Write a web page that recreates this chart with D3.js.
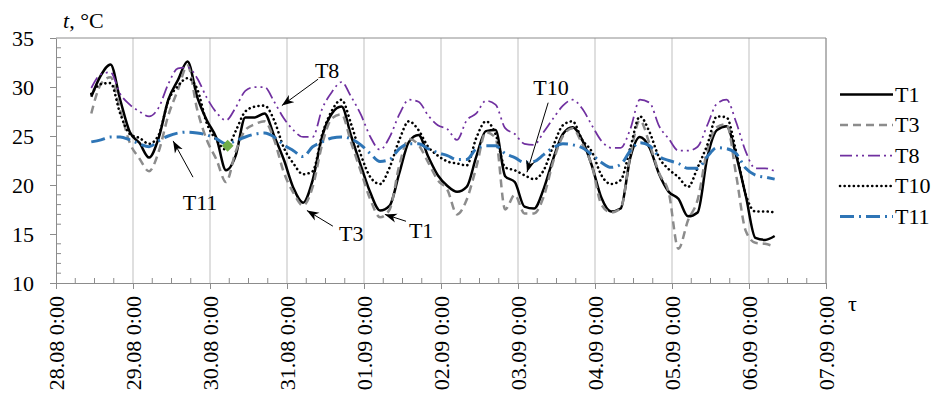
<!DOCTYPE html>
<html>
<head>
<meta charset="utf-8">
<script src="https://cdn.jsdelivr.net/npm/d3@7"></script>
<style>
	body { margin: 0; background: #fff; }
	svg { display: block; }
</style>
</head>
<body>
<div class="chart"></div>
<script>
// readings every 3 h, hours counted from 28.08 0:00
const hours = d3.range(11, 225, 3);
const T1 = [29.0, 31.2, 32.3, 28.7, 25.4, 24.3, 22.8, 24.8, 28.7, 30.7, 32.6, 29.0, 26.6, 24.8, 21.5, 23.0, 26.9, 26.9, 27.3, 25.0, 22.6, 19.7, 18.2, 20.5, 25.0, 27.3, 28.0, 25.0, 22.0, 19.2, 17.4, 17.9, 21.2, 24.4, 25.1, 22.9, 21.0, 19.9, 19.3, 19.8, 22.9, 25.5, 25.6, 20.9, 20.3, 17.8, 17.6, 19.6, 22.7, 25.2, 25.9, 24.6, 22.0, 18.7, 17.3, 17.6, 22.8, 24.9, 23.8, 21.1, 19.3, 18.6, 16.8, 17.2, 22.8, 25.6, 26.0, 23.0, 18.9, 14.6, 14.4, 14.8];
const T3 = [27.3, 30.3, 31.0, 27.7, 24.3, 22.7, 21.4, 23.4, 27.1, 29.7, 32.2, 27.7, 24.6, 22.6, 20.3, 23.4, 25.6, 26.2, 26.5, 24.6, 21.3, 19.2, 17.9, 19.8, 24.2, 26.8, 27.2, 24.3, 21.4, 18.5, 16.7, 17.5, 22.0, 24.7, 24.1, 22.3, 20.5, 19.5, 17.0, 18.5, 21.8, 25.4, 24.8, 17.5, 19.0, 17.1, 17.1, 18.8, 22.4, 25.0, 25.8, 24.2, 22.0, 18.0, 17.2, 17.6, 23.0, 26.6, 24.2, 21.2, 19.2, 13.5, 16.4, 18.5, 23.6, 25.9, 26.2, 21.0, 15.3, 14.1, 14.0, 13.7];
const T8 = [29.9, 31.3, 31.5, 29.3, 28.2, 27.5, 27.0, 27.9, 30.3, 31.9, 32.0, 30.9, 28.9, 27.4, 26.6, 27.9, 29.6, 30.0, 30.0, 28.5, 26.8, 25.6, 24.9, 24.9, 27.8, 29.5, 30.5, 29.0, 27.2, 24.9, 23.6, 24.9, 27.2, 28.7, 28.5, 27.1, 26.1, 25.7, 24.6, 26.6, 27.3, 28.6, 28.2, 25.8, 25.2, 24.2, 24.1, 25.4, 26.8, 28.1, 28.7, 27.8, 26.1, 24.5, 23.8, 23.8, 25.7, 28.7, 28.4, 26.0, 24.7, 23.5, 23.5, 23.9, 26.1, 28.3, 28.7, 26.4, 23.4, 21.7, 21.7, 21.4];
const T10 = [29.3, 30.3, 30.4, 27.3, 25.2, 24.8, 24.2, 25.1, 28.6, 30.1, 30.9, 29.8, 26.3, 24.6, 23.6, 25.5, 27.5, 28.0, 28.1, 26.6, 23.8, 22.2, 21.1, 21.4, 25.2, 27.6, 28.7, 26.2, 23.1, 20.8, 20.1, 21.8, 24.6, 26.5, 25.6, 23.9, 23.0, 22.4, 22.2, 22.0, 24.8, 26.5, 25.2, 21.8, 21.5, 21.0, 20.6, 21.5, 24.0, 26.1, 26.5, 24.6, 23.4, 21.0, 20.1, 20.5, 23.8, 27.0, 25.4, 22.8, 21.6, 20.8, 19.8, 21.8, 24.1, 27.0, 26.9, 23.4, 19.0, 17.3, 17.3, 17.2];
const T11 = [24.4, 24.6, 24.9, 24.9, 24.6, 24.2, 23.9, 24.5, 25.0, 25.3, 25.4, 25.3, 25.1, 24.7, 24.2, 24.5, 24.9, 25.2, 25.3, 24.9, 24.1, 23.5, 22.9, 23.9, 24.4, 24.8, 24.9, 24.7, 24.1, 23.2, 22.4, 22.6, 23.7, 24.2, 24.2, 23.7, 23.3, 23.0, 22.6, 22.6, 23.7, 24.0, 24.0, 23.2, 22.8, 22.3, 22.4, 23.1, 23.8, 24.2, 24.1, 23.8, 23.1, 22.3, 21.8, 22.1, 23.5, 24.3, 24.0, 22.9, 22.5, 22.2, 21.7, 21.7, 22.9, 23.8, 23.7, 23.2, 21.7, 21.0, 20.8, 20.6];

const seriesNames = ['T1', 'T3', 'T8', 'T10', 'T11'];
const seriesValues = [T1, T3, T8, T10, T11];
const yTicks = [10, 15, 20, 25, 30, 35];
const dayLabels = ['28.08 0:00', '29.08 0:00', '30.08 0:00', '31.08 0:00', '01.09 0:00', '02.09 0:00', '03.09 0:00', '04.09 0:00', '05.09 0:00', '06.09 0:00', '07.09 0:00'];
const greenPoint = { hour: 53.5, value: 24.0 };
// callout labels: text position and arrow, in hours / °C
const callouts = [
	{ name: 'T8', th: 84.5, tv: 31.7, fh: 81.7, fv: 30.8, ah: 70.4, av: 28.1 },
	{ name: 'T10', th: 154.3, tv: 30.0, fh: 153.4, fv: 28.4, ah: 146.8, av: 21.3 },
	{ name: 'T11', th: 44.9, tv: 18.2, fh: 42.7, fv: 20.8, ah: 36.5, av: 24.5 },
	{ name: 'T3', th: 92.0, tv: 15.1, fh: 86.3, fv: 15.8, ah: 78.2, av: 17.4 },
	{ name: 'T1', th: 113.8, tv: 15.4, fh: 109.1, fv: 16.3, ah: 102.5, av: 17.0 }
];

const styles = {
	T1: { color: '#000000', width: 2.5, dash: null },
	T3: { color: '#8c8c8c', width: 2.5, dash: '8,5' },
	T8: { color: '#7030a0', width: 1.75, dash: '12,4,2,4,2,4' },
	T10: { color: '#000000', width: 2.6, dash: '0.1,4.5', cap: 'round' },
	T11: { color: '#2e75b6', width: 3, dash: '14,5,2,5' }
};

const width = 936;
const height = 401;
const plot = { left: 56, right: 826, top: 38, bottom: 283 };
const gridColor = '#bfbfbf';
const axisColor = '#8c8c8c';
const fontSize = 22;
const serif = "'Liberation Serif'";

const svg = d3.select('.chart').append('svg').attr('width', width).attr('height', height);

const x = d3.scaleLinear().domain([ 0, 240 ]).range([ plot.left, plot.right ]);
const y = d3.scaleLinear().domain([ 10, 35 ]).range([ plot.bottom, plot.top ]);

// vertical day gridlines + frame
svg
	.append('g')
	.selectAll('line')
	.data(d3.range(24, 241, 24))
	.join('line')
	.attr('x1', (d) => x(d))
	.attr('x2', (d) => x(d))
	.attr('y1', plot.top)
	.attr('y2', plot.bottom)
	.attr('stroke', gridColor)
	.attr('stroke-width', 1);

svg
	.append('path')
	.attr('d', `M${plot.left},${plot.top}H${plot.right}V${plot.bottom}`)
	.attr('fill', 'none')
	.attr('stroke', axisColor);

// minor ticks (inside)
svg
	.append('g')
	.selectAll('line')
	.data(d3.range(6, 240, 6).filter((d) => d % 24 !== 0))
	.join('line')
	.attr('x1', (d) => x(d))
	.attr('x2', (d) => x(d))
	.attr('y1', plot.bottom)
	.attr('y2', plot.bottom - 5)
	.attr('stroke', axisColor);

svg
	.append('g')
	.selectAll('line')
	.data(d3.range(11, 35).filter((d) => d % 5 !== 0))
	.join('line')
	.attr('x1', plot.left)
	.attr('x2', plot.left + 5)
	.attr('y1', (d) => y(d))
	.attr('y2', (d) => y(d))
	.attr('stroke', axisColor);

// y axis
const yAxis = svg
	.append('g')
	.attr('transform', `translate(${plot.left},0)`)
	.call(d3.axisLeft(y).tickValues(yTicks).tickSize(6).tickSizeOuter(0).tickPadding(16).tickFormat((d) => d));
yAxis.selectAll('path, line').attr('stroke', axisColor);
yAxis.selectAll('text').style('font-family', serif).style('font-size', fontSize + 'px').attr('fill', '#000');

// x axis
const xAxis = svg
	.append('g')
	.attr('transform', `translate(0,${plot.bottom})`)
	.call(
		d3
			.axisBottom(x)
			.tickValues(d3.range(0, 241, 24))
			.tickSize(6)
			.tickSizeOuter(0)
			.tickFormat((d, i) => dayLabels[i])
	);
xAxis.selectAll('path, line').attr('stroke', axisColor);
xAxis
	.selectAll('text')
	.style('font-family', serif)
	.style('font-size', fontSize + 'px')
	.attr('fill', '#000')
	.attr('transform', 'rotate(-90)')
	.attr('text-anchor', 'end')
	.attr('x', -13)
	.attr('y', 0)
	.attr('dy', '0.33em');

// axis titles
const yTitle = svg.append('text').attr('x', 63).attr('y', 28);
yTitle.append('tspan').attr('font-style', 'italic').text('t');
yTitle.append('tspan').text(', °C');
svg.append('text').attr('x', 848).attr('y', 311).text('τ');

// series
const line = d3
	.line()
	.x((d, i) => x(hours[i]))
	.y((d) => y(d))
	.curve(d3.curveMonotoneX);

seriesNames.forEach((name, k) => {
	const s = styles[name];
	svg
		.append('path')
		.datum(seriesValues[k])
		.attr('d', line)
		.attr('fill', 'none')
		.attr('stroke', s.color)
		.attr('stroke-width', s.width)
		.attr('stroke-dasharray', s.dash)
		.attr('stroke-linecap', s.cap || 'butt')
		.attr('stroke-linejoin', 'round');
});

// green marker
svg
	.append('path')
	.attr('d', d3.symbol(d3.symbolDiamond2, 90)())
	.attr('transform', `translate(${x(greenPoint.hour)},${y(greenPoint.value)})`)
	.attr('fill', '#70ad47');

// callouts with arrows
svg
	.append('defs')
	.append('marker')
	.attr('id', 'arrow')
	.attr('viewBox', '0 -5 12 10')
	.attr('refX', 12)
	.attr('refY', 0)
	.attr('markerWidth', 12)
	.attr('markerHeight', 10)
	.attr('markerUnits', 'userSpaceOnUse')
	.attr('orient', 'auto')
	.append('path')
	.attr('d', 'M0,-4.5L12,0L0,4.5L3.5,0Z')
	.attr('fill', '#000');

const co = svg.append('g').selectAll('g').data(callouts).join('g');
co
	.append('line')
	.attr('x1', (d) => x(d.fh))
	.attr('y1', (d) => y(d.fv))
	.attr('x2', (d) => x(d.ah))
	.attr('y2', (d) => y(d.av))
	.attr('stroke', '#000')
	.attr('stroke-width', 1)
	.attr('marker-end', 'url(#arrow)');
co
	.append('text')
	.attr('x', (d) => x(d.th))
	.attr('y', (d) => y(d.tv))
	.attr('dy', '0.35em')
	.attr('text-anchor', 'middle')
	.text((d) => d.name);

// legend
const legend = svg
	.append('g')
	.selectAll('g')
	.data(seriesNames)
	.join('g')
	.attr('transform', (d, i) => `translate(840,${94.5 + i * 30.5})`);
legend
	.append('line')
	.attr('x1', 0)
	.attr('x2', 53)
	.attr('stroke', (d) => styles[d].color)
	.attr('stroke-width', (d) => styles[d].width)
	.attr('stroke-dasharray', (d) => styles[d].dash)
	.attr('stroke-linecap', (d) => styles[d].cap || 'butt');
legend.append('text').attr('x', 55).attr('y', 7).text((d) => d);

// all free-standing texts in the serif face
svg.selectAll(':scope > text, :scope > g > g > text').style('font-family', serif).style('font-size', fontSize + 'px').attr('fill', '#000');
</script>
</body>
</html>
